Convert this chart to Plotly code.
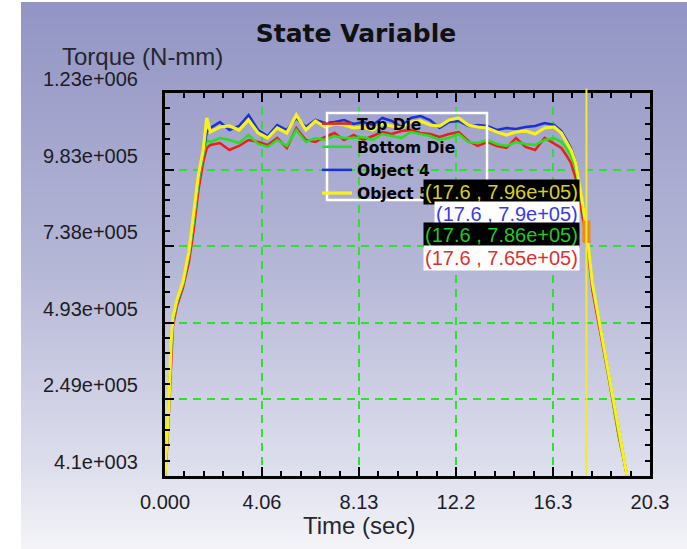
import plotly.graph_objects as go

# ---------------- data ----------------
TIME = [0.0, 0.08, 0.17, 0.25, 0.33, 0.5, 0.75, 1.0, 1.2, 1.4, 1.6, 1.75,
        1.9, 2.3, 2.7, 3.1, 3.5, 3.9, 4.3, 4.7, 5.1, 5.5, 5.9, 6.3, 6.7, 7.1,
        7.5, 7.9, 8.3, 8.7, 9.1, 9.5, 9.9, 10.3, 10.7, 11.1, 11.5, 11.9, 12.3,
        12.7, 13.1, 13.5, 13.9, 14.3, 14.7, 15.1, 15.5, 15.9, 16.3,
        16.6, 16.8, 17.0, 17.2, 17.4, 17.65, 17.9, 18.2, 18.6, 19.0, 19.35]

TOP_DIE = [4.1e3, 87.3e3, 215.3e3, 381.8e3, 484.2e3, 548.2e3, 605.9e3, 689.1e3,
           791.5e3, 919.5e3, 1009.2e3, 1054.0e3,
           1063.6e3, 1070.0e3, 1047.6e3, 1060.4e3, 1079.6e3, 1073.2e3, 1063.6e3,
           1086.0e3, 1054.0e3, 1118.0e3, 1079.6e3, 1073.2e3, 1089.2e3, 1102.0e3,
           1079.6e3, 1095.6e3, 1079.6e3, 1092.4e3, 1105.2e3, 1098.8e3, 1108.4e3,
           1111.6e3, 1102.0e3, 1098.8e3, 1089.2e3, 1098.8e3, 1105.2e3, 1076.4e3,
           1060.4e3, 1073.2e3, 1060.4e3, 1054.0e3, 1086.0e3, 1057.2e3, 1047.6e3,
           1086.0e3, 1066.8e3,
           1054.0e3, 1031.6e3, 1006.0e3, 957.9e3, 871.5e3, 765.0e3, 599.4e3,
           477.8e3, 311.4e3, 132.1e3, 4.1e3]

BOTTOM_DIE = [4.1e3, 103.3e3, 231.4e3, 401.0e3, 497.0e3, 557.8e3, 615.5e3, 708.3e3,
              817.1e3, 945.1e3, 1031.6e3, 1079.6e3,
              1073.2e3, 1086.0e3, 1079.6e3, 1070.0e3, 1095.6e3, 1066.8e3, 1057.2e3,
              1079.6e3, 1060.4e3, 1111.6e3, 1073.2e3, 1086.0e3, 1079.6e3, 1092.4e3,
              1086.0e3, 1086.0e3, 1089.2e3, 1079.6e3, 1098.8e3, 1092.4e3, 1086.0e3,
              1105.2e3, 1098.8e3, 1092.4e3, 1079.6e3, 1086.0e3, 1098.8e3, 1073.2e3,
              1070.0e3, 1079.6e3, 1066.8e3, 1060.4e3, 1073.2e3, 1066.8e3, 1063.6e3,
              1079.6e3, 1086.0e3,
              1073.2e3, 1054.0e3, 1028.4e3, 990.0e3, 909.9e3, 786.0e3, 615.5e3,
              490.6e3, 321.0e3, 138.5e3, 4.1e3]

OBJECT_4 = [4.1e3, 103.3e3, 241.0e3, 407.4e3, 503.4e3, 561.0e3, 621.9e3, 714.7e3,
            829.9e3, 957.9e3, 1041.2e3, 1105.2e3,
            1118.0e3, 1137.2e3, 1111.6e3, 1124.4e3, 1159.6e3, 1111.6e3, 1092.4e3,
            1127.6e3, 1111.6e3, 1150.0e3, 1121.2e3, 1143.6e3, 1134.0e3, 1137.2e3,
            1143.6e3, 1130.8e3, 1137.2e3, 1127.6e3, 1150.0e3, 1140.4e3, 1121.2e3,
            1150.0e3, 1156.4e3, 1143.6e3, 1118.0e3, 1137.2e3, 1140.4e3, 1124.4e3,
            1127.6e3, 1124.4e3, 1111.6e3, 1118.0e3, 1114.8e3, 1121.2e3, 1124.4e3,
            1134.0e3, 1127.6e3,
            1108.4e3, 1082.8e3, 1054.0e3, 1009.2e3, 919.5e3, 790.0e3, 618.7e3,
            493.8e3, 324.2e3, 141.7e3, 4.1e3]

OBJECT_5 = [4.1e3, 119.3e3, 247.4e3, 423.4e3, 509.8e3, 567.4e3, 625.1e3, 721.1e3,
            839.5e3, 967.5e3, 1047.6e3, 1150.0e3,
            1105.2e3, 1121.2e3, 1124.4e3, 1111.6e3, 1143.6e3, 1102.0e3, 1086.0e3,
            1118.0e3, 1102.0e3, 1159.6e3, 1111.6e3, 1140.4e3, 1121.2e3, 1130.8e3,
            1127.6e3, 1118.0e3, 1121.2e3, 1111.6e3, 1130.8e3, 1124.4e3, 1118.0e3,
            1137.2e3, 1140.4e3, 1127.6e3, 1124.4e3, 1143.6e3, 1150.0e3, 1127.6e3,
            1121.2e3, 1118.0e3, 1105.2e3, 1095.6e3, 1105.2e3, 1108.4e3, 1098.8e3,
            1118.0e3, 1121.2e3,
            1102.0e3, 1073.2e3, 1047.6e3, 1006.0e3, 919.5e3, 796.0e3, 621.9e3,
            493.8e3, 324.2e3, 141.7e3, 4.1e3]

SERIES_NAMES = ["Top Die", "Bottom Die", "Object 4", "Object 5"]
SERIES_VALUES = [TOP_DIE, BOTTOM_DIE, OBJECT_4, OBJECT_5]
SERIES_COLORS = ["#e8201c", "#24e01e", "#1830d8", "#f6f21a"]

X_TICK_VALS = [0, 4.0625, 8.125, 12.1875, 16.25, 20.3125]
X_TICK_TEXT = ["0.000", "4.06", "8.13", "12.2", "16.3", "20.3"]
Y_TICK_VALS = [4100, 249280, 494460, 739640, 984820, 1230000]
Y_TICK_TEXT = ["4.1e+003", "2.49e+005", "4.93e+005", "7.38e+005", "9.83e+005", "1.23e+006"]

CURSOR_T = 17.65
CURSOR_LABELS = ["(17.6 , 7.96e+05)", "(17.6 , 7.9e+05)",
                 "(17.6 , 7.86e+05)", "(17.6 , 7.65e+05)"]
CURSOR_VALUES = [796.0e3, 790.0e3, 786.0e3, 765.0e3]

# ---------------- figure ----------------
W, H = 687, 549
ML, MR, MT, MB = 165, 37, 93, 73
PW, PH = W - ML - MR, H - MT - MB

def pxx(px):
    return (px - ML) / PW

def pxy(py):
    return (H - MB - py) / PH

fig = go.Figure()

widths = [2.5, 2.5, 2.5, 3.2]
for name, vals, col, w in zip(SERIES_NAMES, SERIES_VALUES, SERIES_COLORS, widths):
    fig.add_trace(go.Scatter(x=TIME, y=vals, mode="lines", name=name,
                             line=dict(color=col, width=w)))

# orange cursor marker on the curves
fig.add_trace(go.Scatter(x=[CURSOR_T], y=[CURSOR_VALUES[2]], mode="markers",
                         showlegend=False, hoverinfo="skip",
                         marker=dict(symbol="line-ns", size=16, color="#f08a10",
                                     line=dict(color="#f08a10", width=8))))

# gradient background made of thin bands
stops = [(2, (146, 148, 196)), (275, (182, 184, 215)), (470, (222, 223, 237)), (549, (244, 244, 248))]

def col_at(py):
    for (a, ca), (b, cb) in zip(stops[:-1], stops[1:]):
        if a <= py <= b:
            f = (py - a) / (b - a)
            return tuple(int(round(ca[i] + f * (cb[i] - ca[i]))) for i in range(3))
    return stops[-1][1]

shapes = []
step = 3
py = 2
while py < H:
    c = col_at(py + step / 2)
    shapes.append(dict(type="rect", xref="paper", yref="paper", layer="below",
                       x0=pxx(21), x1=pxx(W + 2), y0=pxy(min(py + step + 0.5, H + 2)), y1=pxy(py),
                       line=dict(width=0), fillcolor="rgb(%d,%d,%d)" % c))
    py += step

# cursor line
shapes.append(dict(type="line", xref="x", yref="paper", x0=CURSOR_T, x1=CURSOR_T,
                   y0=0, y1=1.012, line=dict(color="#f2ea30", width=2), layer="above"))
# legend frame
shapes.append(dict(type="rect", xref="paper", yref="paper", layer="above",
                   x0=pxx(327), x1=pxx(487), y0=pxy(200), y1=pxy(113),
                   line=dict(color="white", width=2.5), fillcolor="rgba(0,0,0,0)"))

fig.update_layout(shapes=shapes)

ann = []
ann_styles = [("#d8d020", "black", 37), ("#3a3ae8", "white", 16.5),
              ("#20c820", "black", -3), ("#e03030", "white", -20)]
for txt, val, (fc, bg, ys) in zip(CURSOR_LABELS, CURSOR_VALUES, ann_styles):
    ann.append(dict(x=CURSOR_T, y=val, xref="x", yref="y", text=txt, showarrow=False,
                    xanchor="right", yanchor="middle", xshift=-6, yshift=ys,
                    bgcolor=bg, borderpad=1,
                    font=dict(family="Liberation Sans, Arial", size=20, color=fc)))

ann.append(dict(x=pxx(60), y=pxy(57), xref="paper", yref="paper", text="Torque (N-mm)",
                showarrow=False, xanchor="left", yanchor="middle",
                font=dict(family="Liberation Sans, Arial", size=24, color="#262630")))
ann.append(dict(x=pxx(359), y=pxy(525), xref="paper", yref="paper", text="Time (sec)",
                showarrow=False, xanchor="center", yanchor="middle",
                font=dict(family="Liberation Sans, Arial", size=24, color="#262630")))

fig.update_layout(
    width=W, height=H,
    margin=dict(l=ML, r=MR, t=MT, b=MB),
    paper_bgcolor="white",
    plot_bgcolor="rgba(0,0,0,0)",
    annotations=ann,
    title=dict(text="State Variable", x=356 / W, y=1 - 33 / H, xref="container", yref="container",
               xanchor="center", yanchor="middle",
               font=dict(family="DejaVu Sans", size=25, color="#111111", weight="bold")),
    legend=dict(x=pxx(317), y=pxy(107), xanchor="left", yanchor="top",
                bgcolor="rgba(0,0,0,0)", borderwidth=0,
                font=dict(family="DejaVu Sans", size=15.5, color="black", weight="bold"),
                itemwidth=30, tracegroupgap=0),
    showlegend=True,
)

axis_common = dict(
    showline=True, linewidth=3, linecolor="black", mirror="allticks",
    ticks="inside", ticklen=9, tickwidth=2, tickcolor="black",
    showgrid=True, gridcolor="#30e030", gridwidth=1.5, griddash="8px,6px",
    zeroline=False,
    tickfont=dict(family="Liberation Sans, Arial", size=20, color="#1c1c24"),
    tickmode="array",
)

fig.update_xaxes(range=[0, 20.3125], tickvals=X_TICK_VALS, ticktext=X_TICK_TEXT,
                 ticklabelstandoff=6,
                 minor=dict(tickmode="linear", tick0=0, dtick=4.0625 / 5, ticks="inside",
                            ticklen=5, tickwidth=1.5, tickcolor="black", showgrid=False),
                 **axis_common)
fig.update_yaxes(range=[4100, 1230000], tickvals=Y_TICK_VALS, ticktext=Y_TICK_TEXT,
                 ticklabelstandoff=20, ticklabelshift=-14,
                 minor=dict(tickmode="linear", tick0=4100, dtick=245180 / 5, ticks="inside",
                            ticklen=5, tickwidth=1.5, tickcolor="black", showgrid=False),
                 **axis_common)

fig.write_html("out.html", config={"displayModeBar": False},
               post_script="document.body.style.margin='0';")
